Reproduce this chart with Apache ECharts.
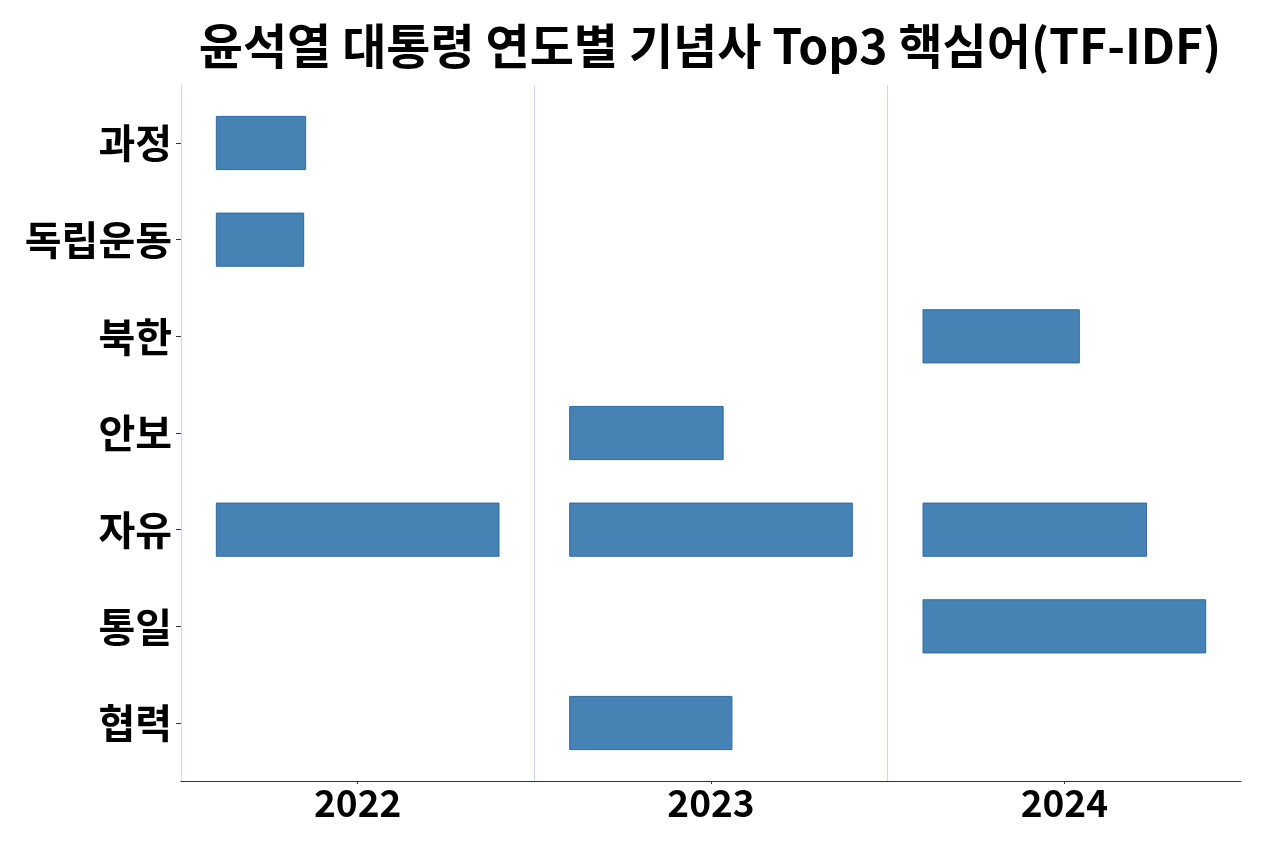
<!DOCTYPE html>
<html>
<head>
<meta charset="utf-8">
<script src="https://cdn.jsdelivr.net/npm/echarts@6/dist/echarts.min.js"></script>
<style>html,body{margin:0;padding:0;background:#fff}#c{width:1280px;height:848px}</style>
</head>
<body>
<div id="c"></div>
<script>
const categories = ['과정', '독립운동', '북한', '안보', '자유', '통일', '협력'];
const years = [2022, 2023, 2024];
const keywords2022 = ['자유', '과정', '독립운동'];
const scores2022 = [1.0, 0.316, 0.309];
const keywords2023 = ['자유', '협력', '안보'];
const scores2023 = [1.0, 0.574, 0.543];
const keywords2024 = ['통일', '자유', '북한'];
const scores2024 = [1.0, 0.791, 0.553];
const titleText = '윤석열 대통령 연도별 기념사 Top3 핵심어(TF-IDF)';

const FONT = '"Noto Sans CJK KR", "Noto Sans", sans-serif';
const perYear = [[keywords2022, scores2022], [keywords2023, scores2023], [keywords2024, scores2024]];
const data = [];
years.forEach((y, i) => {
  const [kws, sc] = perYear[i];
  kws.forEach((k, j) => data.push([y, categories.indexOf(k), sc[j]]));
});

const BAR_START = 0.4, BAR_SPAN = 0.8, BAR_H = 0.55;

const chart = echarts.init(document.getElementById('c'));
chart.setOption({
  animation: false,
  backgroundColor: '#fff',
  graphic: [{
    type: 'text', x: 710, y: 46,
    style: { text: titleText, font: 'bold 48px ' + FONT, fill: '#000', textAlign: 'center', textVerticalAlign: 'middle' }
  }],
  grid: { left: 181, right: 39, top: 85, bottom: 67 },
  xAxis: {
    type: 'value', min: 2021.5, max: 2024.5,
    splitLine: { show: false },
    axisLine: { show: true, onZero: false, lineStyle: { color: '#333', width: 1.2 } },
    axisTick: { show: true, customValues: years, length: 3, lineStyle: { color: '#333' } },
    axisLabel: { customValues: years, formatter: v => String(v), fontFamily: FONT, fontWeight: 'bold', fontSize: 37, color: '#000', margin: 3 }
  },
  yAxis: {
    type: 'value', min: -0.6, max: 6.6, inverse: true,
    splitLine: { show: false },
    axisLine: { show: true, onZero: false, lineStyle: { color: '#c6dbef', width: 1 } },
    axisTick: { show: true, customValues: categories.map((c, i) => i), length: 5, lineStyle: { color: '#333' } },
    axisLabel: { customValues: categories.map((c, i) => i), formatter: v => categories[Math.round(v)] || '', fontFamily: FONT, fontWeight: 'bold', fontSize: 40, color: '#000', margin: 9 }
  },
  series: [{
    type: 'custom',
    data: data,
    encode: { x: 0, y: 1 },
    renderItem: function (params, api) {
      const yr = api.value(0), idx = api.value(1), v = api.value(2);
      const p0 = api.coord([yr - BAR_START, idx]);
      const p1 = api.coord([yr - BAR_START + v * BAR_SPAN, idx]);
      const h = api.size([0, BAR_H])[1];
      return {
        type: 'rect',
        shape: { x: p0[0], y: p0[1] - h / 2, width: p1[0] - p0[0], height: h },
        style: { fill: '#4682b4', stroke: '#2f6aa0', lineWidth: 1 }
      };
    },
    markLine: {
      silent: true, symbol: 'none', label: { show: false },
      lineStyle: { color: '#c6dbef', width: 1, type: 'solid' },
      data: [{ xAxis: 2022.5 }, { xAxis: 2023.5 }]
    }
  }]
});
</script>
</body>
</html>
